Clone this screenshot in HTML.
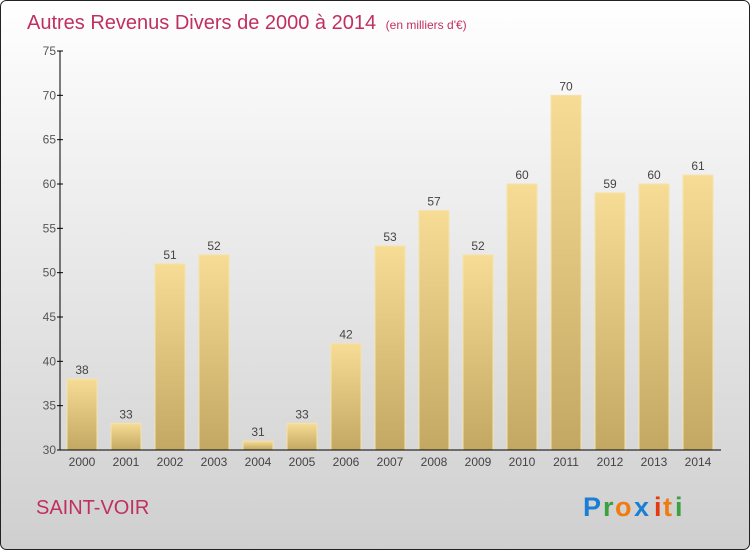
<!DOCTYPE html>
<html><head><meta charset="utf-8"><style>
body{margin:0;width:750px;height:550px;overflow:hidden;font-family:"Liberation Sans",sans-serif}
</style></head><body>
<svg width="750" height="550" xmlns="http://www.w3.org/2000/svg">
<defs>
<linearGradient id="bg" x1="0" y1="0" x2="0" y2="1"><stop offset="0" stop-color="#ffffff"/><stop offset="1" stop-color="#cfcfcf"/></linearGradient>
<linearGradient id="bar" x1="0" y1="0" x2="0" y2="1"><stop offset="0" stop-color="#f7dc95"/><stop offset="1" stop-color="#c2a862"/></linearGradient>
</defs>
<rect x="0.5" y="0.5" width="749" height="549" rx="6" fill="url(#bg)" stroke="#222"/>
<text x="27" y="29" font-size="20" fill="#c0305f">Autres Revenus Divers de 2000 à 2014 <tspan font-size="12" dx="4">(en milliers d'€)</tspan></text>
<g id="plot"></g>
<text x="36" y="514" font-size="20" fill="#c0305f">SAINT-VOIR</text>
<g font-size="27" font-weight="bold">
<text x="583" y="516" fill="#1a7fd4">P</text><text x="603" y="516" fill="#3aa040">r</text><text x="615" y="516" fill="#f07c10">o</text><text x="634" y="516" fill="#1a7fd4">x</text><text x="654" y="516" fill="#e53a10">i</text><text x="663" y="516" fill="#f07c10">t</text><text x="675" y="516" fill="#3aa040">i</text>
</g>
</svg>
<script>
const years=["2000","2001","2002","2003","2004","2005","2006","2007","2008","2009","2010","2011","2012","2013","2014"];
const values=[38,33,51,52,31,33,42,53,57,52,60,70,59,60,61];
const yTicks=[30,35,40,45,50,55,60,65,70,75];
const ns="http://www.w3.org/2000/svg";
const g=document.getElementById('plot');
const y0=30,y1=75,py0=450,py1=51;
const ys=v=>py0-(v-y0)*(py0-py1)/(y1-y0);
const xs=i=>82+i*44;
function el(t,a,p){const e=document.createElementNS(ns,t);for(const k in a)e.setAttribute(k,a[k]);(p||g).appendChild(e);return e;}
values.forEach((v,i)=>{
 const r=el('rect',{x:xs(i)-15,y:ys(v),width:30,height:py0-ys(v),fill:'url(#bar)',stroke:'#f7e2a8','stroke-width':1});
 
 
 const t=el('text',{x:xs(i),y:ys(v)-5,'text-anchor':'middle','font-size':12,fill:'#444'});
 t.textContent=v;
 
 
 const xl=el('text',{x:xs(i),y:466,'text-anchor':'middle','font-size':12,fill:'#444'});
 xl.textContent=years[i];
 
 
});
yTicks.forEach(v=>{
 el('line',{x1:57,x2:63,y1:ys(v),y2:ys(v),stroke:'#000'});
 const t=el('text',{x:56,y:ys(v)+4,'text-anchor':'end','font-size':12,fill:'#555'});
 t.textContent=v;
 
 
});
const ya=el('line',{x1:60,x2:60,y1:ys(75),y2:py0,stroke:'#000'});


const xa=el('line',{x1:60,x2:721,y1:py0,y2:py0,stroke:'#000'});


</script>
</body></html>
